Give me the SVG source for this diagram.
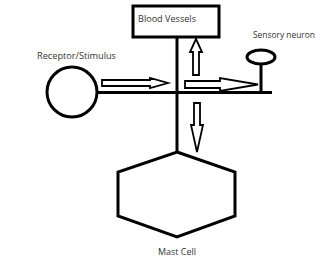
<svg xmlns="http://www.w3.org/2000/svg" width="320" height="272" viewBox="0 0 320 272">
<style>
.ln{stroke:#000;stroke-width:3;fill:none}
.sh{stroke:#000;stroke-width:3;fill:#fff}
.ar{stroke:#000;stroke-width:1.8;fill:#fff;stroke-linejoin:miter}
text{font-family:"Open Sans","Liberation Sans",sans-serif;font-size:9px;fill:#333}
</style>
<rect width="320" height="272" fill="#fff"/>
<g id="connectors">
<line class="ln" x1="97" y1="92.5" x2="272" y2="92.5"/>
<line class="ln" x1="177" y1="36" x2="177" y2="152"/>
<line class="ln" x1="261" y1="64" x2="261" y2="92"/>
<polygon class="ar" points="102,80 150,80 150,78 168,83 150,88 150,86 102,86"/>
<polygon class="ar" points="185,81 220,81 220,78 258,84.5 220,91 220,88 185,88"/>
<polygon class="ar" points="193,75 193,52 190,52 196,39 202,52 199,52 199,75"/>
<polygon class="ar" points="194,103 200,103 200,125 203,125 197,152 191,125 194,125"/>
</g>
<g id="blood-vessels">
<rect class="sh" x="133" y="6" width="86" height="31"/>
<text x="138" y="22" textLength="58" lengthAdjust="spacingAndGlyphs">Blood Vessels</text>
</g>
<g id="receptor">
<circle class="sh" cx="72" cy="92" r="25"/>
<text x="37" y="59" textLength="79" lengthAdjust="spacingAndGlyphs">Receptor/Stimulus</text>
</g>
<g id="sensory-neuron">
<ellipse class="sh" cx="261" cy="57" rx="14" ry="7"/>
<text x="253" y="38" textLength="62" lengthAdjust="spacingAndGlyphs">Sensory neuron</text>
</g>
<g id="mast-cell">
<polygon class="sh" points="177,152 235,172 235,216 177,237 118,216 118,172"/>
<text x="158" y="255" textLength="38" lengthAdjust="spacingAndGlyphs">Mast Cell</text>
</g>
</svg>
